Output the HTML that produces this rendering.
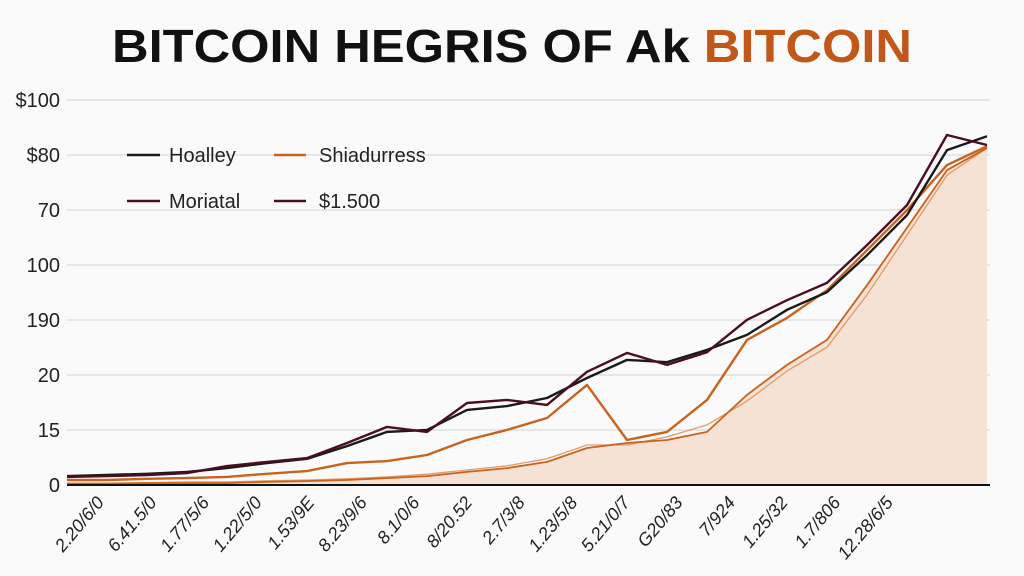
<!DOCTYPE html>
<html><head><meta charset="utf-8"><style>
html,body{margin:0;padding:0;background:#fafafa;}
svg{display:block;font-family:"Liberation Sans",sans-serif;}
</style></head><body>
<svg id="chart" width="1024" height="576" viewBox="0 0 1024 576">
<rect width="1024" height="576" fill="#fafafa"/>
<text x="512" y="62" text-anchor="middle" font-size="46" font-weight="bold" textLength="800" lengthAdjust="spacingAndGlyphs" fill="#111">BITCOIN HEGRIS OF Ak <tspan fill="#c2571a">BITCOIN</tspan></text>
<g id="grid"></g><g id="yticks"></g><g id="xticks"></g><g id="series"></g>
<g>
<line x1="127" y1="155" x2="160" y2="155" stroke="#1a1a1a" stroke-width="2.5"/>
<text x="169" y="162" font-size="20" fill="#222">Hoalley</text>
<line x1="274" y1="155" x2="306" y2="155" stroke="#c8621e" stroke-width="2.5"/>
<text x="319" y="162" font-size="20" fill="#222">Shiadurress</text>
<line x1="127" y1="201" x2="160" y2="201" stroke="#4a0e24" stroke-width="2.5"/>
<text x="169" y="208" font-size="20" fill="#222">Moriatal</text>
<line x1="274" y1="201" x2="306" y2="201" stroke="#4a0e24" stroke-width="2.5"/>
<text x="319" y="208" font-size="20" fill="#222">$1.500</text>
</g>
</svg>
<script>
const yTickLabels=["0","15","20","190","100","70","$80","$100"];
const xTickLabels=["2.20/6/0","6.41.5/0","1.77/5/6","1.22/5/0","1.53/9E","8.23/9/6","8.1/0/6","8/20.52","2.7/3/8","1.23/5/8","5.21/0/7","G20/83","7/924","1.25/32","1.7/806","12.28/6/5"];
const hoalley=[2.3,2.6,2.9,3.4,4.4,5.7,6.8,10.1,13.8,14.3,19.5,20.5,22.6,27.8,32.5,31.9,35.1,39,45.5,50.1,59.7,70.1,87,90.6];
const moriatal=[2.1,2.3,2.6,3.1,4.9,6,7,10.9,15.1,13.8,21.3,22.1,20.8,29.4,34.3,31.2,34.5,42.9,48,52.5,62.3,72.7,90.9,88.3];
const shiadurress=[1.3,1.3,1.6,1.8,2.1,2.9,3.6,5.7,6.2,7.8,11.7,14.3,17.4,26,11.7,13.8,22.1,37.7,43.4,50.6,61,71.4,83.1,88];
const area=[0.3,0.3,0.5,0.5,0.5,0.8,1,1.3,1.8,2.3,3.4,4.4,6,9.6,10.9,11.7,13.8,23.4,31.2,37.7,51.9,66.8,81.8,87.5];
const areaAlt=[0.5,0.5,0.6,0.8,0.8,1.1,1.3,1.6,2.1,2.8,3.9,5,6.8,10.4,10.4,12.5,15.6,21.8,29.6,35.8,49.4,64.9,80.5,87.5];
const NS="http://www.w3.org/2000/svg";
const X0=67,X1=987,Y0=485,Y1=100;
const xs=i=>X0+(X1-X0)*i/(hoalley.length-1);
const ys=v=>Y0-(Y0-Y1)*v/100;
function mk(t,a,p){const e=document.createElementNS(NS,t);for(const k in a)e.setAttribute(k,a[k]);p.appendChild(e);return e;}
const grid=document.getElementById('grid'),yt=document.getElementById('yticks'),xt=document.getElementById('xticks'),sg=document.getElementById('series');
yTickLabels.forEach((l,i)=>{const v=i*100/(yTickLabels.length-1);const y=ys(v);
 if(i>0){const g=mk('line',{x1:X0,x2:990,y1:y,y2:y,stroke:'#e0e0e0','stroke-width':1.5},grid);
 
 }
 const t=mk('text',{x:60,y:y+7,'text-anchor':'end','font-size':20,fill:'#222'},yt);t.textContent=l;
 
 });
xTickLabels.forEach((l,i)=>{const x=105+i*52.6;
 const t=mk('text',{x:x,y:503,'text-anchor':'end','font-size':18,'font-style':'italic',fill:'#222',transform:`rotate(-50 ${x} 503)`},xt);t.textContent=l;
 
 });
const pts=a=>a.map((v,i)=>`${xs(i).toFixed(1)},${ys(v).toFixed(1)}`).join(' ');
const ar=mk('polygon',{points:`${X0},${Y0} ${pts(area)} ${X1},${Y0}`,fill:'#f5e2d4'},sg);


const defs=[[areaAlt,'#e39a66',1.3,'series-1500-alt'],[area,'#c8621e',1.8,'series-area-line'],[shiadurress,'#c8621e',2.4,'series-shiadurress'],[hoalley,'#1a1a1a',2.4,'series-hoalley'],[moriatal,'#4a0e24',2.4,'series-moriatal']];
defs.forEach(d=>{const p=mk('polyline',{points:pts(d[0]),fill:'none',stroke:d[1],'stroke-width':d[2],'stroke-linejoin':'round'},sg);
 
 });
const ax=mk('line',{x1:X0,x2:990,y1:Y0,y2:Y0,stroke:'#111','stroke-width':2},sg);


</script>
</body></html>
